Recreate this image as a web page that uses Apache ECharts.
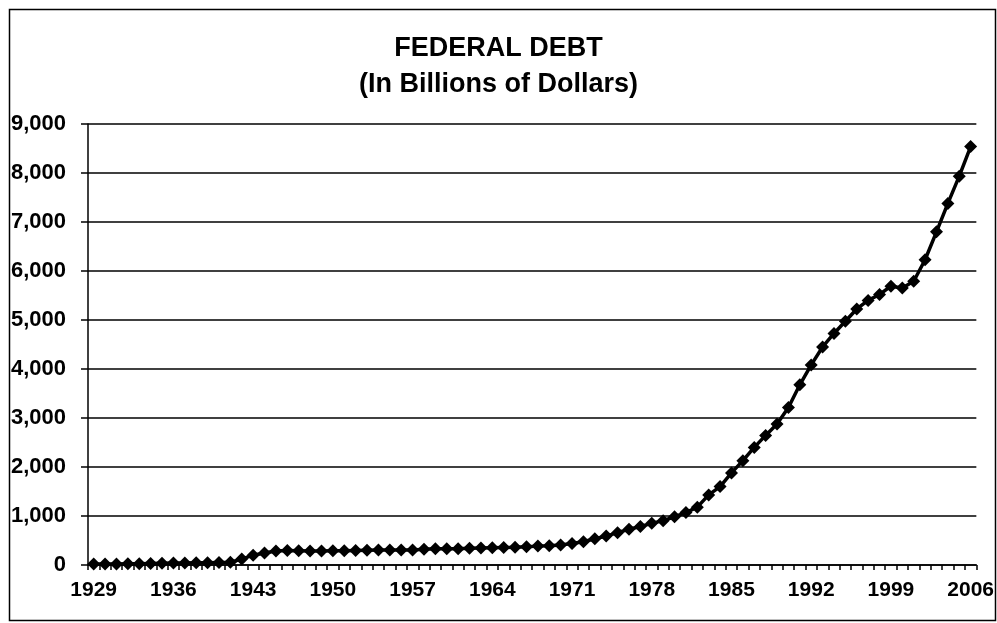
<!DOCTYPE html>
<html>
<head>
<meta charset="utf-8">
<script src="https://cdn.jsdelivr.net/npm/echarts@6/dist/echarts.min.js"></script>
<style>html,body{margin:0;padding:0;background:#fff}#c{width:997px;height:623px}</style>
</head>
<body>
<div id="c"></div>
<script>
var years = [];
for (var y = 1929; y <= 2006; y++) years.push(String(y));
var debt = [
  20, 20, 20, 25, 25, 30, 35, 40, 40, 45, 45, 50, 55, 120, 200, 245, 285,
  295, 290, 285, 285, 290, 290, 295, 300, 305, 305, 305, 305, 320, 330,
  330, 330, 340, 345, 350, 355, 360, 370, 390, 395, 410, 440, 475, 535,
  590, 660, 730, 785, 850, 905, 985, 1070, 1180, 1430, 1600, 1880, 2130,
  2400, 2645, 2876, 3215, 3677, 4084, 4450, 4725, 4975, 5225, 5400, 5520,
  5690, 5655, 5790, 6230, 6800, 7380, 7935, 8540
];
var titleText = 'FEDERAL DEBT';
var subtitleText = '(In Billions of Dollars)';
var FONT = 'Arial, "Liberation Sans", sans-serif';

var chart = echarts.init(document.getElementById('c'), null, {renderer: 'canvas'});
chart.setOption({
  backgroundColor: '#fff',
  animation: false,
  title: {
    text: titleText,
    subtext: subtitleText,
    left: 'center',
    top: 30,
    itemGap: 9,
    textStyle: {fontFamily: FONT, fontWeight: 'bold', fontSize: 27, color: '#000'},
    subtextStyle: {fontFamily: FONT, fontWeight: 'bold', fontSize: 27, color: '#000'}
  },
  graphic: [{
    type: 'rect', left: 7, top: 7, silent: true,
    shape: {width: 986, height: 611},
    style: {fill: 'none', stroke: '#000', lineWidth: 1.5}
  }],
  grid: {left: 88, right: 20, top: 124, bottom: 58, containLabel: false},
  xAxis: {
    type: 'category',
    data: years,
    boundaryGap: true,
    axisLine: {lineStyle: {color: '#000', width: 1.5}},
    axisTick: {show: true, interval: 0, length: 5, lineStyle: {color: '#000', width: 1.5}},
    axisLabel: {interval: 6, color: '#000', fontFamily: FONT, fontWeight: 'bold', fontSize: 21, margin: 15},
    splitLine: {show: false}
  },
  yAxis: {
    type: 'value',
    min: 0, max: 9000, interval: 1000,
    axisLine: {show: true, lineStyle: {color: '#000', width: 1.5}},
    axisTick: {show: true, length: 7, lineStyle: {color: '#000', width: 1.5}},
    axisLabel: {
      color: '#000', fontFamily: FONT, fontWeight: 'bold', fontSize: 22, margin: 22,
      formatter: function (v) { return v.toLocaleString('en-US'); }
    },
    splitLine: {show: true, lineStyle: {color: '#000', width: 1.5}}
  },
  series: [{
    type: 'line',
    data: debt,
    symbol: 'diamond',
    symbolSize: 13,
    showAllSymbol: true,
    lineStyle: {color: '#000', width: 3.5},
    itemStyle: {color: '#000'},
    z: 5
  }]
});
</script>
</body>
</html>
